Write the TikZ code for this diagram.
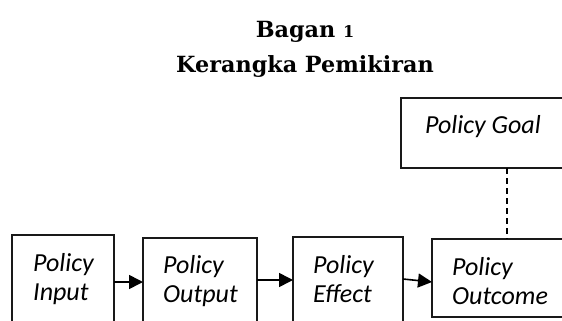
\documentclass[tikz,border=0pt]{standalone}
\usepackage{fontspec}
\newfontfamily\carlito{Carlito}
\newfontfamily\headfont{DejaVu Serif}
\usetikzlibrary{arrows.meta}
\newcommand{\osfig}[1]{\scalebox{0.72}{#1}}
\tikzset{
  title/.style={font=\headfont\bfseries\fontsize{22.3}{35}\selectfont, align=center, inner sep=0pt},
  box/.style={draw=black!90, line width=1.2pt, anchor=north west, outer sep=0pt, inner sep=0pt},
  tag/.style={font=\carlito\itshape\fontsize{26}{29}\selectfont, align=left, inner sep=0pt},
  arr/.style={line width=1.6pt, -{Triangle[length=14pt,width=14pt]}}
}
\begin{document}
\begin{tikzpicture}[x=1pt, y=-1pt]
  % frame
  \useasboundingbox (0,0) rectangle (562,321);
  \clip (0,0) rectangle (562,321);
  % title
  \node[title, anchor=north] (title) at (305,21) {Bagan \osfig{1}\\Kerangka Pemikiran};
  % boxes
  \node[box, minimum width=102, minimum height=110] (input) at (12,235) {};
  \node[box, minimum width=114, minimum height=110] (output) at (143,238) {};
  \node[box, minimum width=110, minimum height=110] (effect) at (293,237) {};
  \node[box, minimum width=150, minimum height=78] (outcome) at (432,239) {};
  \node[box, minimum width=212, minimum height=70] (goal) at (401,98) {};
  % texts
  \node[tag, anchor=base west] (inputtxt) at (33,300) {Policy\\Input};
  \node[tag, anchor=base west] (outputtxt) at (163,302) {Policy\\Output};
  \node[tag, anchor=base west] (effecttxt) at (313,302) {Policy\\Effect};
  \node[tag, anchor=base west] (outcometxt) at (452,304) {Policy\\Outcome};
  \node[tag, anchor=base west] (goaltxt) at (425,133) {Policy Goal};
  % connectors
  \draw[arr] (input.east |- 0,282) -- (output.west |- 0,282);
  \draw[arr] (output.east |- 0,280) -- (effect.west |- 0,280);
  \draw[arr] (effect.east |- 0,279) -- (outcome.west |- 0,282);
  \draw[line width=1.2pt, dash pattern=on 6pt off 4pt] (goal.south) -- (outcome.north);
\end{tikzpicture}
\end{document}
